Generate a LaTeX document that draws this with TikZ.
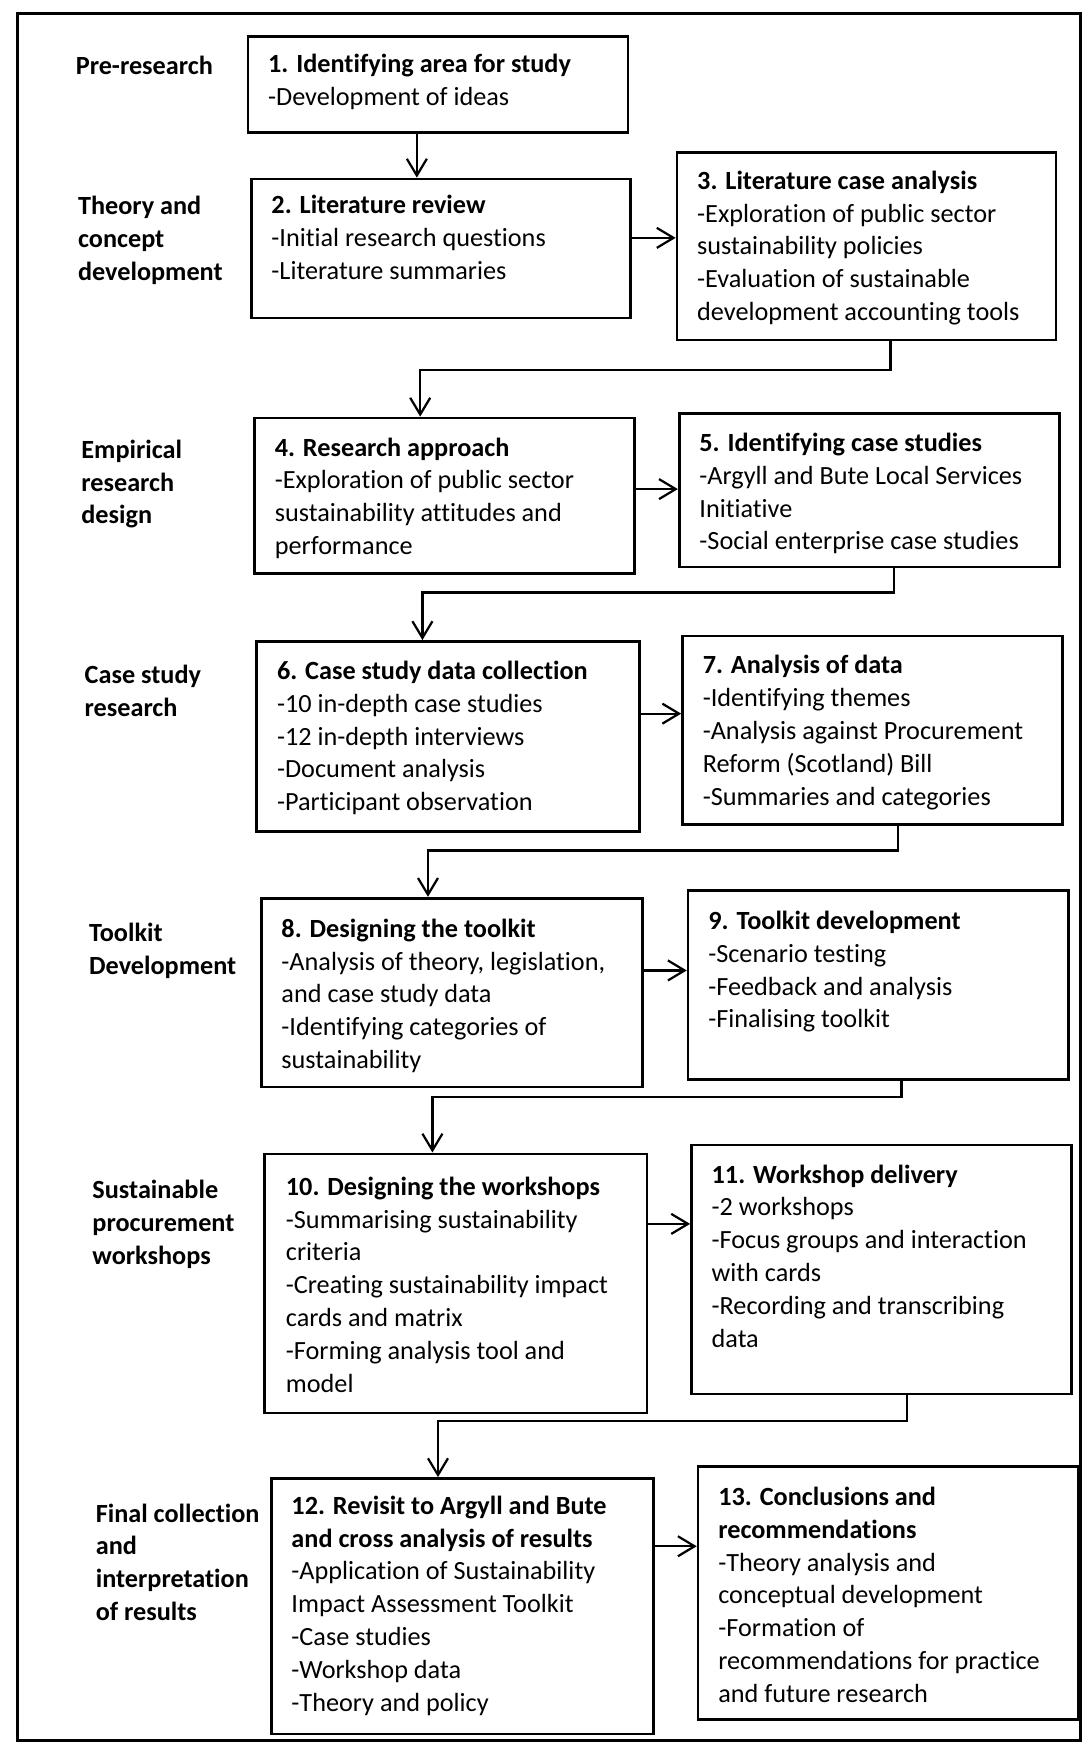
\documentclass[tikz,border=0pt]{standalone}
\usepackage{fontspec}
\setmainfont[Ligatures=NoCommon]{Carlito}
\usetikzlibrary{arrows.meta}

\begin{document}
\begin{tikzpicture}[
  x=1pt, y=-1pt,
  every node/.style={inner sep=0pt},
  stage/.style={draw, line width=2.4pt, rectangle, line join=miter},
  txt/.style={anchor=north west, align=left,
    font=\fontsize{23.6}{29.5}\selectfont},
  phase/.style={txt, font=\fontsize{23.6}{29.5}\selectfont\bfseries},
  arr/.style={draw, line width=2pt, line join=miter,
    -{Straight Barb[length=15pt,width=18pt,line width=2pt]}},
]
\useasboundingbox (0,0) rectangle (981,1568);

% outer frame
\node[draw, line width=2.8pt, minimum width=956pt, minimum height=1554pt]
  (frame) at (494,789) {};

% stage boxes: centre, width, height
\node[stage, minimum width=342pt, minimum height=86pt]  (b1)  at (394,76)     {};
\node[stage, minimum width=341pt, minimum height=125pt] (b2)  at (396.5,223.5) {};
\node[stage, minimum width=341pt, minimum height=169pt] (b3)  at (779.5,221.5) {};
\node[stage, minimum width=342pt, minimum height=140pt] (b4)  at (400,446)    {};
\node[stage, minimum width=342pt, minimum height=138pt] (b5)  at (782,441)    {};
\node[stage, minimum width=344pt, minimum height=171pt] (b6)  at (403,662.5)  {};
\node[stage, minimum width=342pt, minimum height=170pt] (b7)  at (785,657)    {};
\node[stage, minimum width=343pt, minimum height=170pt] (b8)  at (406.5,893)  {};
\node[stage, minimum width=342pt, minimum height=170pt] (b9)  at (790,886)    {};
\node[stage, minimum width=344pt, minimum height=233pt] (b10) at (410,1154.5) {};
\node[stage, minimum width=342pt, minimum height=224pt] (b11) at (793,1142)   {};
\node[stage, minimum width=344pt, minimum height=230pt] (b12) at (416,1445)   {};
\node[stage, minimum width=342pt, minimum height=228pt] (b13) at (799,1433)   {};

% stage texts
\node[txt] (t1) at (241,44.4) {\strut\textbf{1. Identifying area for study}\\
  -Development of ideas};
\node[txt] (t2) at (244,171.4) {\strut\textbf{2. Literature review}\\
  -Initial research questions\\
  -Literature summaries};
\node[txt] (t3) at (627,149.4) {\strut\textbf{3. Literature case analysis}\\
  -Exploration of public sector\\
  sustainability policies\\
  -Evaluation of sustainable\\
  development accounting tools};
\node[txt] (t4) at (247,389.4) {\strut\textbf{4. Research approach}\\
  -Exploration of public sector\\
  sustainability attitudes and\\
  performance};
\node[txt] (t5) at (629,385.4) {\strut\textbf{5. Identifying case studies}\\
  -Argyll and Bute Local Services\\
  Initiative\\
  -Social enterprise case studies};
\node[txt] (t6) at (249,590.4) {\strut\textbf{6. Case study data collection}\\
  -10 in-depth case studies\\
  -12 in-depth interviews\\
  -Document analysis\\
  -Participant observation};
\node[txt] (t7) at (632,585.4) {\strut\textbf{7. Analysis of data}\\
  -Identifying themes\\
  -Analysis against Procurement\\
  Reform (Scotland) Bill\\
  -Summaries and categories};
\node[txt] (t8) at (253,822.4) {\strut\textbf{8. Designing the toolkit}\\
  -Analysis of theory, legislation,\\
  and case study data\\
  -Identifying categories of\\
  sustainability};
\node[txt] (t9) at (637,815.4) {\strut\textbf{9. Toolkit development}\\
  -Scenario testing\\
  -Feedback and analysis\\
  -Finalising toolkit};
\node[txt] (t10) at (257,1054.4) {\strut\textbf{10. Designing the workshops}\\
  -Summarising sustainability\\
  criteria\\
  -Creating sustainability impact\\
  cards and matrix\\
  -Forming analysis tool and\\
  model};
\node[txt] (t11) at (640,1043.4) {\strut\textbf{11. Workshop delivery}\\
  -2 workshops\\
  -Focus groups and interaction\\
  with cards\\
  -Recording and transcribing\\
  data};
\node[txt] (t12) at (262,1341.4) {\strut\textbf{12. Revisit to Argyll and Bute}\\
  \textbf{and cross analysis of results}\\
  -Application of Sustainability\\
  Impact Assessment Toolkit\\
  -Case studies\\
  -Workshop data\\
  -Theory and policy};
\node[txt] (t13) at (646,1333.4) {\strut\textbf{13. Conclusions and}\\
  \textbf{recommendations}\\
  -Theory analysis and\\
  conceptual development\\
  -Formation of\\
  recommendations for practice\\
  and future research};

% phase labels
\node[phase] (p1) at (68,46.4)   {\strut Pre-research};
\node[phase] (p2) at (70,172.4)  {\strut Theory and\\concept\\development};
\node[phase] (p3) at (73,391.4)  {\strut Empirical\\research\\design};
\node[phase] (p4) at (76,594.4)  {\strut Case study\\research};
\node[phase] (p5) at (80,826.4)  {\strut Toolkit\\Development};
\node[phase] (p6) at (83,1057.4) {\strut Sustainable\\procurement\\workshops};
\node[phase] (p7) at (86,1348.4) {\strut Final collection\\and\\interpretation\\of results};

% routing points
\coordinate (v12) at (375,0);
\coordinate (h23) at (0,214);
\coordinate (h45) at (0,440);
\coordinate (h67) at (0,642);
\coordinate (h89) at (0,873);
\coordinate (h1011) at (0,1101);
\coordinate (h1213) at (0,1391);
\coordinate (k3a) at (801,333);  \coordinate (k3b) at (378,333);
\coordinate (k5a) at (804,533);  \coordinate (k5b) at (380,533);
\coordinate (k7a) at (808,765);  \coordinate (k7b) at (385,765);
\coordinate (k9a) at (811,987);  \coordinate (k9b) at (389,987);
\coordinate (k11a) at (816,1278); \coordinate (k11b) at (394,1278);

% connectors
\draw[arr] (b1.south -| v12) -- (b2.north -| v12);
\draw[arr] (b2.east |- h23) -- (b3.west |- h23);
\draw[arr] (b3.south -| k3a) -- (k3a) -- (k3b) -- (b4.north -| k3b);
\draw[arr] (b4.east |- h45) -- (b5.west |- h45);
\draw[arr] (b5.south -| k5a) -- (k5a) -- (k5b) -- (b6.north -| k5b);
\draw[arr] (b6.east |- h67) -- (b7.west |- h67);
\draw[arr] (b7.south -| k7a) -- (k7a) -- (k7b) -- (b8.north -| k7b);
\draw[arr] (b8.east |- h89) -- (b9.west |- h89);
\draw[arr] (b9.south -| k9a) -- (k9a) -- (k9b) -- (b10.north -| k9b);
\draw[arr] (b10.east |- h1011) -- (b11.west |- h1011);
\draw[arr] (b11.south -| k11a) -- (k11a) -- (k11b) -- (b12.north -| k11b);
\draw[arr] (b12.east |- h1213) -- (b13.west |- h1213);
\end{tikzpicture}
\end{document}
